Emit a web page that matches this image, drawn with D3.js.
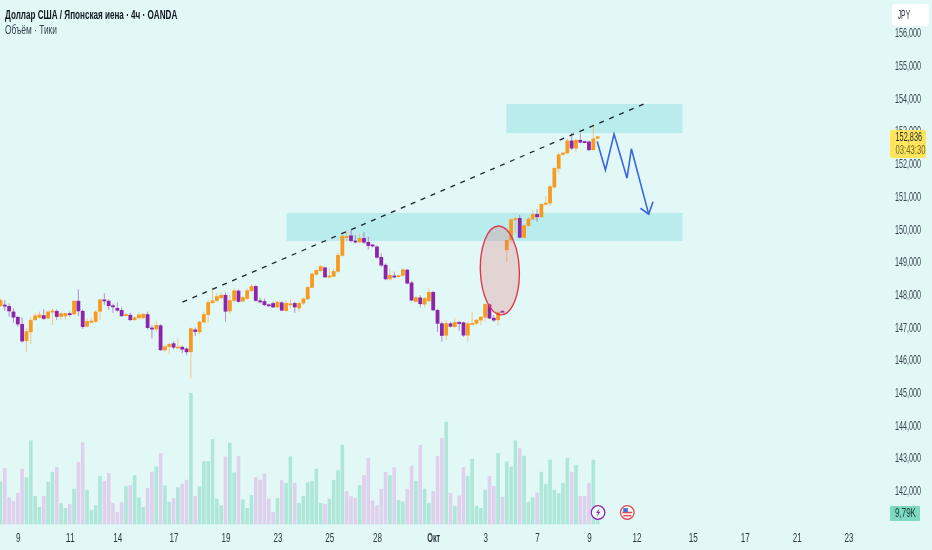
<!DOCTYPE html>
<html lang="ru">
  <head>
    <meta charset="utf-8">
    <title>USDJPY 4h</title>
    <script src="https://d3js.org/d3.v7.min.js"></script>
    <style type="text/css">
      html, body { margin: 0; padding: 0; background: #e1f8f6; }
      svg { display: block; filter: blur(0.35px); }
      text { font-family: "Liberation Sans", sans-serif; }
    </style>
  </head>
  <body>
    <div id="chart"></div>
    <script type="text/javascript">
      var opens = [
        147.65,147.69,147.65,147.48,147.32,147.10,146.58,146.85,147.22,147.29,
        147.37,147.27,147.48,147.50,147.32,147.34,147.43,147.40,147.81,147.50,
        147.02,147.18,147.17,147.48,147.85,147.81,147.67,147.59,147.53,147.37,
        147.38,147.22,147.28,147.28,147.40,146.99,146.94,147.06,146.30,146.40,
        146.51,146.38,146.40,146.35,146.24,146.93,146.85,147.15,147.38,147.74,
        147.81,147.89,147.99,147.49,147.81,148.12,147.79,147.87,148.11,148.26,
        147.82,147.80,147.70,147.74,147.61,147.76,147.50,147.72,147.74,147.58,
        147.73,147.86,148.21,148.61,148.72,148.83,148.53,148.55,148.70,149.19,
        149.77,149.81,149.65,149.60,149.73,149.61,149.53,149.47,149.15,148.91,
        148.47,148.58,148.55,148.58,148.76,148.37,147.78,147.91,147.70,147.80,
        148.08,147.53,147.12,146.75,147.12,147.01,147.16,147.15,146.75,147.11,
        147.11,147.21,147.30,147.70,147.29,147.22,147.50,149.36,149.67,150.30,
        150.34,149.74,150.10,150.30,150.46,150.37,150.75,150.79,151.28,151.85,
        152.28,152.32,152.71,152.47,152.73,152.69,152.68,152.42,152.77];
      var highs = [
        147.88,147.83,147.73,147.58,147.33,147.30,146.97,147.32,147.42,147.48,
        147.55,147.53,147.58,147.55,147.45,147.45,147.48,147.83,148.16,147.55,
        147.27,147.29,147.53,147.87,148.04,147.85,147.73,147.76,147.61,147.44,
        147.44,147.34,147.44,147.44,147.48,147.07,147.20,147.10,146.46,146.53,
        146.57,146.66,146.44,146.38,146.99,146.99,147.20,147.48,147.85,148.22,
        148.04,148.06,148.06,147.99,148.19,148.16,147.95,148.19,148.32,148.29,
        147.91,147.88,147.73,147.78,147.81,147.80,147.83,147.86,147.78,147.78,
        147.91,148.26,148.67,148.77,148.90,148.85,148.80,148.80,149.28,149.82,
        149.97,149.97,149.82,149.85,149.91,149.77,149.55,149.50,149.26,148.95,
        148.80,148.70,148.60,148.80,148.78,148.41,147.95,147.98,147.93,148.19,
        148.11,147.55,147.17,147.22,147.17,147.29,147.19,147.17,147.17,147.48,
        147.25,147.34,147.75,147.73,147.37,147.50,147.53,149.67,150.33,150.38,
        150.43,150.14,150.38,150.59,150.61,150.79,151.00,151.35,151.89,152.34,
        152.36,152.75,152.95,152.75,152.93,152.70,152.71,153.19,152.85];
      var lows = [
        147.63,147.51,147.32,147.14,147.02,146.53,146.25,146.49,147.20,147.27,
        147.22,147.25,147.07,147.22,147.22,147.24,147.32,147.37,147.34,146.95,
        146.99,147.12,147.14,147.22,147.68,147.53,147.44,147.48,147.32,147.34,
        147.20,147.20,147.24,147.26,146.93,146.66,146.86,146.28,146.25,146.18,
        146.32,146.35,146.20,146.15,145.44,146.73,146.79,147.12,147.14,147.73,
        147.77,147.87,147.17,147.42,147.78,147.75,147.77,147.85,148.08,147.78,
        147.73,147.65,147.63,147.59,147.58,147.49,147.48,147.58,147.44,147.48,
        147.69,147.83,148.19,148.59,148.70,148.51,148.50,148.53,148.67,149.16,
        149.62,149.59,149.57,149.57,149.55,149.38,149.44,149.10,148.85,148.44,
        148.44,148.50,148.53,148.55,148.32,147.80,147.75,147.61,147.61,147.78,
        147.50,146.86,146.56,146.61,147.00,146.97,146.89,146.71,146.56,147.07,
        147.07,147.07,147.17,147.25,147.17,147.05,147.47,149.00,149.57,149.87,
        149.72,149.72,150.08,150.28,150.23,150.35,150.73,150.71,151.25,151.71,
        152.24,152.30,152.42,152.37,152.63,152.63,152.39,152.40,152.75];
      var closes = [
        147.83,147.67,147.49,147.30,147.09,146.57,146.88,147.22,147.36,147.39,
        147.26,147.48,147.51,147.32,147.43,147.43,147.40,147.81,147.49,147.01,
        147.19,147.20,147.48,147.85,147.81,147.65,147.63,147.51,147.34,147.40,
        147.22,147.30,147.39,147.41,146.98,146.97,147.07,146.30,146.42,146.49,
        146.38,146.41,146.32,146.24,146.97,146.86,147.17,147.40,147.77,147.82,
        147.95,147.99,147.48,147.83,148.13,147.78,147.92,148.13,148.26,147.81,
        147.78,147.68,147.67,147.61,147.78,147.51,147.74,147.73,147.61,147.74,
        147.88,148.23,148.64,148.75,148.87,148.53,148.58,148.72,149.21,149.80,
        149.79,149.64,149.60,149.73,149.59,149.49,149.49,149.13,148.89,148.47,
        148.60,148.54,148.59,148.77,148.34,147.82,147.92,147.71,147.89,148.08,
        147.52,147.11,146.74,147.13,147.02,147.16,147.14,146.75,147.12,147.13,
        147.23,147.32,147.71,147.27,147.21,147.46,147.49,149.67,150.30,150.33,
        149.74,150.12,150.32,150.46,150.37,150.77,150.81,151.31,151.87,152.29,
        152.34,152.71,152.47,152.73,152.65,152.67,152.42,152.77,152.84];

      // volume in thousands of ticks
      var volumes = [
        38.0,49.8,24.0,20.5,27.9,49.3,41.8,74.5,25.2,15.4,25.2,37.7,46.3,50.7,18.7,14.5,18.1,31.5,
        55.2,72.7,30.6,12.8,16.9,43.0,38.6,45.4,19.0,11.0,19.6,33.8,34.7,43.6,23.7,15.4,32.3,46.6,
        51.3,63.2,34.4,19.9,23.4,32.9,35.9,39.5,116.6,25.2,33.8,56.1,56.1,75.7,22.8,16.9,60.2,72.4,
        46.0,60.8,22.0,14.5,26.1,41.8,39.5,45.1,22.8,11.0,23.4,39.2,36.8,60.2,36.8,19.0,25.2,37.4,
        38.6,49.3,19.0,18.1,22.8,39.2,48.1,70.6,29.4,24.9,23.4,34.7,43.9,59.0,21.1,16.9,31.5,46.6,
        43.6,50.7,21.7,20.2,31.5,51.9,38.6,70.3,31.5,19.0,29.4,60.5,76.8,91.1,27.9,16.3,25.5,50.7,
        43.0,58.2,16.3,14.5,30.6,43.0,34.1,63.2,24.3,55.8,51.3,74.5,67.6,60.8,19.9,24.0,28.2,46.6,
        35.9,57.3,30.6,27.6,36.8,59.0,46.6,52.5,25.2,25.2,36.8,57.3,9.79];
      // g = teal bar, p = lilac bar
      var volumeSides = ("gpppppggggpggpggpgppggggpppppgpgggppgpggpgppgpggggggpggpgggpppppgpggpggg" +
        "gggpggggpppgppppppgpggppgpggpppgpgppgggggppgpgggpgggpgggggggpgpppgg").split("");

      var priceTicks = [142,143,144,145,146,147,148,149,150,151,152,153,154,155,156];
      var dateTicks = [4,16,27,40,52,64,76,87,100,112,124,136,147,160,172,184,196];
      var dateLabels = ["9","11","14","17","19","23","25","28","Окт","3","7","9","12","15","17","21","23"];

      // drawings on the chart, as [candle index, price]
      var zones = [
        {from: 116.9, to: 157.6, top: 153.83, bottom: 152.94},
        {from: 66.1, to: 157.6, top: 150.50, bottom: 149.64}
      ];
      var trendLine = [[42.06,147.77],[149.76,153.89]];
      var forecast = [[137.9,152.68],[139.8,151.81],[141.8,152.91],[144.8,151.56],[145.8,152.46],[149.8,150.46]];
      var arrowHead = [[147.9,150.64],[149.8,150.46],[150.8,150.84]];
      var circled = {index: 115.4, price: 148.74, rIndex: 4.5, rPrice: 1.36};

      var width = 932, height = 550;
      var svg = d3.select("#chart").append("svg").attr("width", width).attr("height", height);

      var x = d3.scaleLinear().domain([0, 200]).range([0.5, 865.9]);
      var y = d3.scaleLinear().domain([142, 156]).range([490.8, 33]);
      var yVol = d3.scaleLinear().domain([0, 116.6]).range([524.3, 393]);

      svg.append("rect").attr("width", width).attr("height", height).attr("fill", "#e1f8f6");

      // the reference type is narrow, so squeeze each text to its measured width
      var fit = function (sel, w) {
        sel.each(function (d, i) {
          var t = d3.select(this);
          var wanted = typeof w == "function" ? w(d, i) : w;
          var k = wanted / this.getComputedTextLength();
          var tx = +t.attr("x") || 0, ty = +t.attr("y") || 0;
          t.attr("transform", "translate(" + tx + "," + ty + ") scale(" + k + ",1) translate(" + (-tx) + "," + (-ty) + ")");
        });
      };

      // volume
      svg.selectAll(".vol").data(volumes).enter().append("rect")
        .attr("class", "vol")
        .attr("x", function (d, i) { return x(i) - 1.8; })
        .attr("y", function (d) { return yVol(d); })
        .attr("width", 3.6)
        .attr("height", function (d) { return yVol(0) - yVol(d); })
        .attr("fill", function (d, i) { return volumeSides[i] == "g" ? "#aee6d9" : "#dfd0ec"; });

      // zones go under the candles
      svg.selectAll(".zone").data(zones).enter().append("rect")
        .attr("class", "zone")
        .attr("x", function (d) { return x(d.from); })
        .attr("y", function (d) { return y(d.top); })
        .attr("width", function (d) { return x(d.to) - x(d.from); })
        .attr("height", function (d) { return y(d.bottom) - y(d.top); })
        .attr("fill", "#b9eced");

      var candle = svg.selectAll(".candle").data(opens).enter().append("g").attr("class", "candle");
      var color = function (i) { return closes[i] >= opens[i] ? "#f89a1f" : "#8e24aa"; };
      candle.append("line")
        .attr("x1", function (d, i) { return x(i); })
        .attr("x2", function (d, i) { return x(i); })
        .attr("y1", function (d, i) { return y(highs[i]); })
        .attr("y2", function (d, i) { return y(lows[i]); })
        .attr("stroke", function (d, i) { return color(i); })
        .attr("stroke-opacity", 0.5)
        .attr("stroke-width", 1);
      candle.append("rect")
        .attr("x", function (d, i) { return x(i) - 1.9; })
        .attr("width", 3.8)
        .attr("y", function (d, i) { return y(Math.max(opens[i], closes[i])); })
        .attr("height", function (d, i) { return Math.max(1.8, Math.abs(y(opens[i]) - y(closes[i]))); })
        .attr("fill", function (d, i) { return color(i); });

      // trend line
      var line = d3.line().x(function (d) { return x(d[0]); }).y(function (d) { return y(d[1]); });
      svg.append("path").attr("d", line(trendLine))
        .attr("fill", "none").attr("stroke", "#1c2430").attr("stroke-width", 1.3)
        .attr("stroke-dasharray", "5,5.8");

      // ellipse round the gap
      svg.append("ellipse")
        .attr("cx", x(circled.index)).attr("cy", y(circled.price))
        .attr("rx", x(circled.rIndex) - x(0)).attr("ry", y(0) - y(circled.rPrice))
        .attr("transform", "rotate(-2 " + x(circled.index) + " " + y(circled.price) + ")")
        .attr("fill", "#e57373").attr("fill-opacity", 0.27)
        .attr("stroke", "#e0384f").attr("stroke-width", 1.4);

      // forecast arrow
      svg.append("path").attr("d", line(forecast))
        .attr("fill", "none").attr("stroke", "#3a67e0").attr("stroke-width", 1.6);
      svg.append("path").attr("d", line(arrowHead))
        .attr("fill", "none").attr("stroke", "#3a67e0").attr("stroke-width", 1.6);

      // axes
      var axisY = d3.axisRight(y).tickValues(priceTicks).tickSize(0).tickPadding(0)
        .tickFormat(function (d) { return d3.format(".3f")(d).replace(".", ","); });
      var gy = svg.append("g").attr("transform", "translate(895,0)").call(axisY);
      gy.select(".domain").remove();
      gy.selectAll("text").attr("fill", "#3a4450").style("font-size", "12px")
        .call(fit, 26);

      var axisX = d3.axisBottom(x).tickValues(dateTicks).tickSize(0).tickPadding(0)
        .tickFormat(function (d, i) { return dateLabels[i]; });
      var gx = svg.append("g").attr("transform", "translate(0,533)").call(axisX);
      gx.select(".domain").remove();
      gx.selectAll("text").attr("fill", "#2f3844").style("font-size", "12px")
        .style("font-weight", function (d, i) { return dateLabels[i] == "Окт" ? "bold" : "normal"; })
        .call(fit, function (d, i) { return dateLabels[i] == "Окт" ? 13 : dateLabels[i].length * 4.5; });

      // JPY button
      svg.append("rect").attr("x", 892).attr("y", 4).attr("width", 37).attr("height", 22)
        .attr("rx", 3).attr("fill", "#ffffff");
      svg.append("text").attr("x", 897.7).attr("y", 19).attr("fill", "#2f3844")
        .style("font-size", "12px").text("JPY").call(fit, 12.5);

      // last price tag
      svg.append("rect").attr("x", 890).attr("y", 130).attr("width", 36).attr("height", 28)
        .attr("rx", 2).attr("fill", "#ffe45c");
      svg.append("text").attr("x", 895.5).attr("y", 141).attr("fill", "#27303a")
        .style("font-size", "12px").text("152,836").call(fit, 26.7);
      svg.append("text").attr("x", 895.5).attr("y", 154).attr("fill", "#6f6a2a")
        .style("font-size", "12px").text("03:43:30").call(fit, 30);

      // volume tag
      svg.append("rect").attr("x", 890).attr("y", 506).attr("width", 30).attr("height", 15)
        .attr("rx", 1).attr("fill", "#7fd8c2");
      svg.append("text").attr("x", 895).attr("y", 517.5).attr("fill", "#123c36")
        .style("font-size", "12px").text("9,79K").call(fit, 21);

      // title
      svg.append("text").attr("x", 5).attr("y", 19).attr("fill", "#131722")
        .style("font-size", "12px").style("font-weight", "bold")
        .text("Доллар США / Японская иена · 4ч · OANDA").call(fit, 172.5);
      svg.append("text").attr("x", 5).attr("y", 34).attr("fill", "#3a4450")
        .style("font-size", "12px").text("Объём · Тики").call(fit, 52);

      // event marks on the time scale
      var ev1 = svg.append("g").attr("transform", "translate(" + x(138.1) + ",512.5)");
      ev1.append("circle").attr("r", 6.8).attr("fill", "#eefbfa").attr("stroke", "#8e24aa").attr("stroke-width", 1.3);
      ev1.append("path").attr("d", "M1.6,-4.2 L-2,0.6 L0,0.6 L-1.2,4.2 L2.4,-0.8 L0.4,-0.8 Z").attr("fill", "#8e24aa");
      var ev2 = svg.append("g").attr("transform", "translate(" + x(144.85) + ",512.5)");
      ev2.append("circle").attr("r", 6.8).attr("fill", "#ffffff").attr("stroke", "#e5484d").attr("stroke-width", 1.3);
      ev2.append("rect").attr("x", -4.8).attr("y", -0.8).attr("width", 9.6).attr("height", 1.6).attr("fill", "#e5484d");
      ev2.append("rect").attr("x", -4).attr("y", 2.4).attr("width", 8).attr("height", 1.5).attr("fill", "#e5484d");
      ev2.append("rect").attr("x", -4).attr("y", -4.4).attr("width", 4.6).attr("height", 4).attr("fill", "#3f74d6");
    </script>
  </body>
</html>
